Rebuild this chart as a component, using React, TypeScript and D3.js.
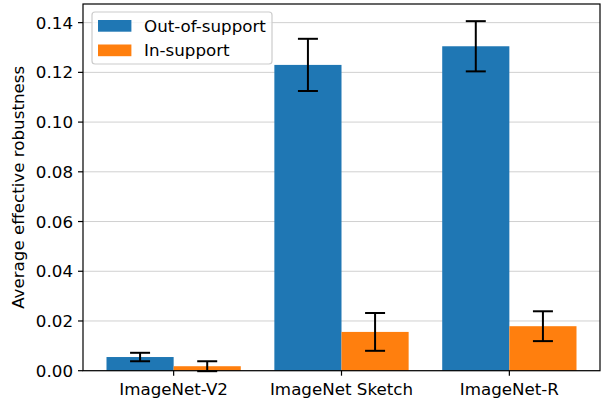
import React from "react";
import * as d3 from "d3";

const categories = ["ImageNet-V2", "ImageNet Sketch", "ImageNet-R"];
const seriesNames = ["Out-of-support", "In-support"];
const outValues = [0.0055, 0.123, 0.1305];
const outErrors = [0.0017, 0.0105, 0.0101];
const inValues = [0.0018, 0.0156, 0.0179];
const inErrors = [0.002, 0.0076, 0.006];
const yTicks = [0, 0.02, 0.04, 0.06, 0.08, 0.1, 0.12, 0.14];
const colors = ["#1f77b4", "#ff7f0e"];

const W = 601;
const H = 400;
const left = 83;
const right = 600;
const top = 4;
const bottom = 370.7;
const FS = 16.7;
const FONT = "'DejaVu Sans', sans-serif";

export default function App() {
  const x = d3.scaleLinear().domain([-0.54, 2.54]).range([left, right]);
  const y = d3.scaleLinear().domain([0, 0.1475]).range([bottom, top]);
  const barW = x(0.4) - x(0);
  const series = [
    { vals: outValues, errs: outErrors, off: -0.2 },
    { vals: inValues, errs: inErrors, off: 0.2 },
  ];
  const cap = 10;
  return (
    <svg width={W} height={H} style={{ position: "absolute", left: 0, top: 0 }} fontFamily={FONT}>
      <rect x={0} y={0} width={W} height={H} fill="#fff" />
      {yTicks.map((t) => (
        <line key={"g" + t} x1={left} x2={right} y1={y(t)} y2={y(t)} stroke="#d0d0d0" strokeWidth={1} />
      ))}
      {series.map((s, si) =>
        s.vals.map((v, i) => (
          <rect
            key={"b" + si + i}
            x={x(i + s.off) - barW / 2}
            y={y(v)}
            width={barW}
            height={y(0) - y(v)}
            fill={colors[si]}
          />
        ))
      )}
      {series.map((s, si) =>
        s.vals.map((v, i) => {
          const cx = x(i + s.off);
          const lo = y(v - s.errs[i]);
          const hi = y(v + s.errs[i]);
          return (
            <g key={"e" + si + i} stroke="#000" strokeWidth={2}>
              <line x1={cx} x2={cx} y1={lo} y2={hi} />
              <line x1={cx - cap} x2={cx + cap} y1={lo} y2={lo} />
              <line x1={cx - cap} x2={cx + cap} y1={hi} y2={hi} />
            </g>
          );
        })
      )}
      <rect x={left} y={top} width={right - left} height={bottom - top} fill="none" stroke="#000" strokeWidth={1.2} />
      {yTicks.map((t) => (
        <g key={"t" + t}>
          <line x1={left - 5} x2={left} y1={y(t)} y2={y(t)} stroke="#000" strokeWidth={1.2} />
          <text x={73} y={y(t)} dy="0.36em" textAnchor="end" fontSize={FS} fill="#000">
            {t.toFixed(2)}
          </text>
        </g>
      ))}
      {categories.map((c, i) => (
        <g key={"x" + c}>
          <line x1={x(i)} x2={x(i)} y1={bottom} y2={bottom + 5} stroke="#000" strokeWidth={1.2} />
          <text x={x(i)} y={395} textAnchor="middle" fontSize={FS} fill="#000">
            {c}
          </text>
        </g>
      ))}
      <text
        transform={`translate(${24},${(top + bottom) / 2}) rotate(-90)`}
        textAnchor="middle"
        fontSize={FS}
        fill="#000"
      >
        Average effective robustness
      </text>
      <g>
        <rect x={92} y={12} width={180} height={52} rx={3} fill="#fff" fillOpacity={0.8} stroke="#cccccc" strokeWidth={1.2} />
        {seriesNames.map((n, i) => (
          <g key={"l" + n}>
            <rect x={98} y={20 + i * 24.5} width={33.4} height={11.7} fill={colors[i]} />
            <text x={144} y={20 + i * 24.5 + 5.85} dy="0.36em" fontSize={FS} fill="#000">
              {n}
            </text>
          </g>
        ))}
      </g>
    </svg>
  );
}
